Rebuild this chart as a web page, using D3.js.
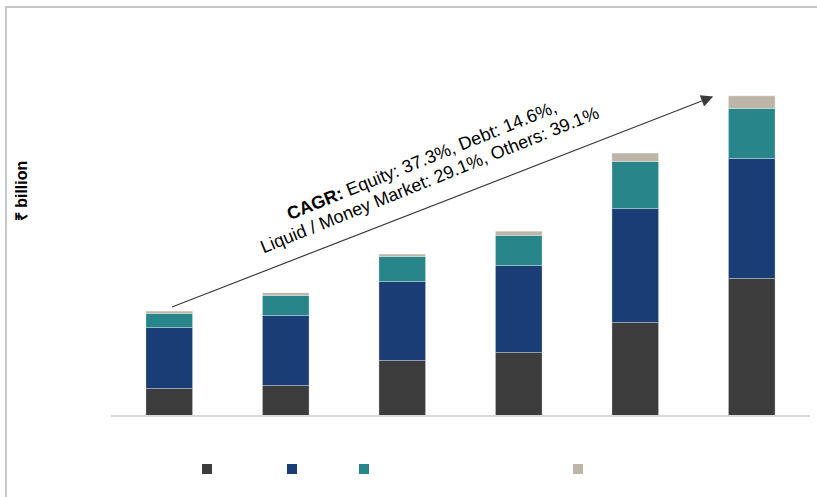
<!DOCTYPE html>
<html>
<head>
<meta charset="utf-8">
<script src="https://cdn.jsdelivr.net/npm/d3@7"></script>
<style>
  body { margin: 0; background: #fff; }
  svg { display: block; font-family: "Liberation Sans", Arial, sans-serif; }
</style>
</head>
<body>
<script>
// Chart data (₹ billion)
var periods = ["P1", "P2", "P3", "P4", "P5", "P6"];
var seriesNames = ["Equity", "Debt", "Liquid / Money Market", "Others"];
var equity = [27, 30, 55, 63, 93, 137];
var debt = [61, 70, 79, 87, 114, 120];
var liquid = [14, 20, 25, 30, 47, 50];
var others = [2.4, 2.7, 2.4, 4.3, 8.4, 12.7];
var colors = ["#3c3c3c", "#1b3d75", "#28868a", "#bdb5a8"];

var svgWidth = 817;
var svgHeight = 497;

var svg = d3.select("body")
  .append("svg")
  .attr("width", svgWidth)
  .attr("height", svgHeight);

// frame lines (top and left only)
svg.append("line")
  .attr("x1", 5).attr("x2", svgWidth).attr("y1", 7).attr("y2", 7)
  .attr("stroke", "#c8c8c8").attr("stroke-width", 2);
svg.append("line")
  .attr("x1", 6).attr("x2", 6).attr("y1", 7).attr("y2", svgHeight)
  .attr("stroke", "#c8c8c8").attr("stroke-width", 2);

// build table for stack
var table = periods.map(function(p, i) {
  return { period: p, Equity: equity[i], Debt: debt[i], "Liquid / Money Market": liquid[i], Others: others[i] };
});
var stacked = d3.stack().keys(seriesNames)(table);

var xScale = d3.scaleBand()
  .domain(periods)
  .range([111, 810])
  .paddingInner(0.6)
  .paddingOuter(0.3);

var yScale = d3.scaleLinear()
  .domain([0, 400])
  .range([415.5, 15.5]);

// bars
svg.selectAll("g.series")
  .data(stacked)
  .enter()
  .append("g")
  .attr("class", "series")
  .attr("fill", function(d, i) { return colors[i]; })
  .selectAll("rect")
  .data(function(d) { return d; })
  .enter()
  .append("rect")
  .attr("x", function(d) { return xScale(d.data.period); })
  .attr("width", xScale.bandwidth())
  .attr("y", function(d) { return yScale(d[1]); })
  .attr("height", function(d) { return yScale(d[0]) - yScale(d[1]); })
  .attr("stroke", "#ffffff")
  .attr("stroke-opacity", 0.35)
  .attr("stroke-width", 0.8);

// baseline
svg.append("line")
  .attr("x1", 111).attr("x2", 810)
  .attr("y1", yScale(0) + 0.5).attr("y2", yScale(0) + 0.5)
  .attr("stroke", "#d9d9d9").attr("stroke-width", 2);

// y axis title
svg.append("text")
  .attr("transform", "translate(27, 191) rotate(-90)")
  .style("text-anchor", "middle")
  .style("font-size", "16px")
  .style("font-weight", "bold")
  .attr("fill", "#000")
  .text("₹ billion");

// CAGR arrow
svg.append("defs").append("marker")
  .attr("id", "head")
  .attr("viewBox", "0 0 10 10")
  .attr("refX", 9).attr("refY", 5)
  .attr("markerWidth", 16).attr("markerHeight", 12)
  .attr("markerUnits", "userSpaceOnUse")
  .attr("orient", "auto")
  .append("path")
  .attr("d", "M0,0 L10,5 L0,10 Z")
  .attr("fill", "#3a3a3a");

svg.append("line")
  .attr("x1", 172).attr("y1", 307)
  .attr("x2", 712).attr("y2", 97)
  .attr("stroke", "#3a3a3a")
  .attr("stroke-width", 1.2)
  .attr("marker-end", "url(#head)");

var note = svg.append("text")
  .attr("transform", "translate(424, 166) rotate(-22)")
  .style("text-anchor", "middle")
  .style("font-size", "18px")
  .attr("fill", "#000");
var l1 = note.append("tspan").attr("x", 0).attr("y", 0);
l1.append("tspan").style("font-weight", "bold").text("CAGR:");
l1.append("tspan").text(" Equity: 37.3%, Debt: 14.6%,");
note.append("tspan").attr("x", 0).attr("y", 21)
  .text("Liquid / Money Market: 29.1%, Others: 39.1%");

// legend (swatches only)
var legendX = [202, 287, 359, 573];
svg.selectAll("rect.legend")
  .data(seriesNames)
  .enter()
  .append("rect")
  .attr("class", "legend")
  .attr("x", function(d, i) { return legendX[i]; })
  .attr("y", 464)
  .attr("width", 10)
  .attr("height", 10)
  .attr("fill", function(d, i) { return colors[i]; });
</script>
</body>
</html>
